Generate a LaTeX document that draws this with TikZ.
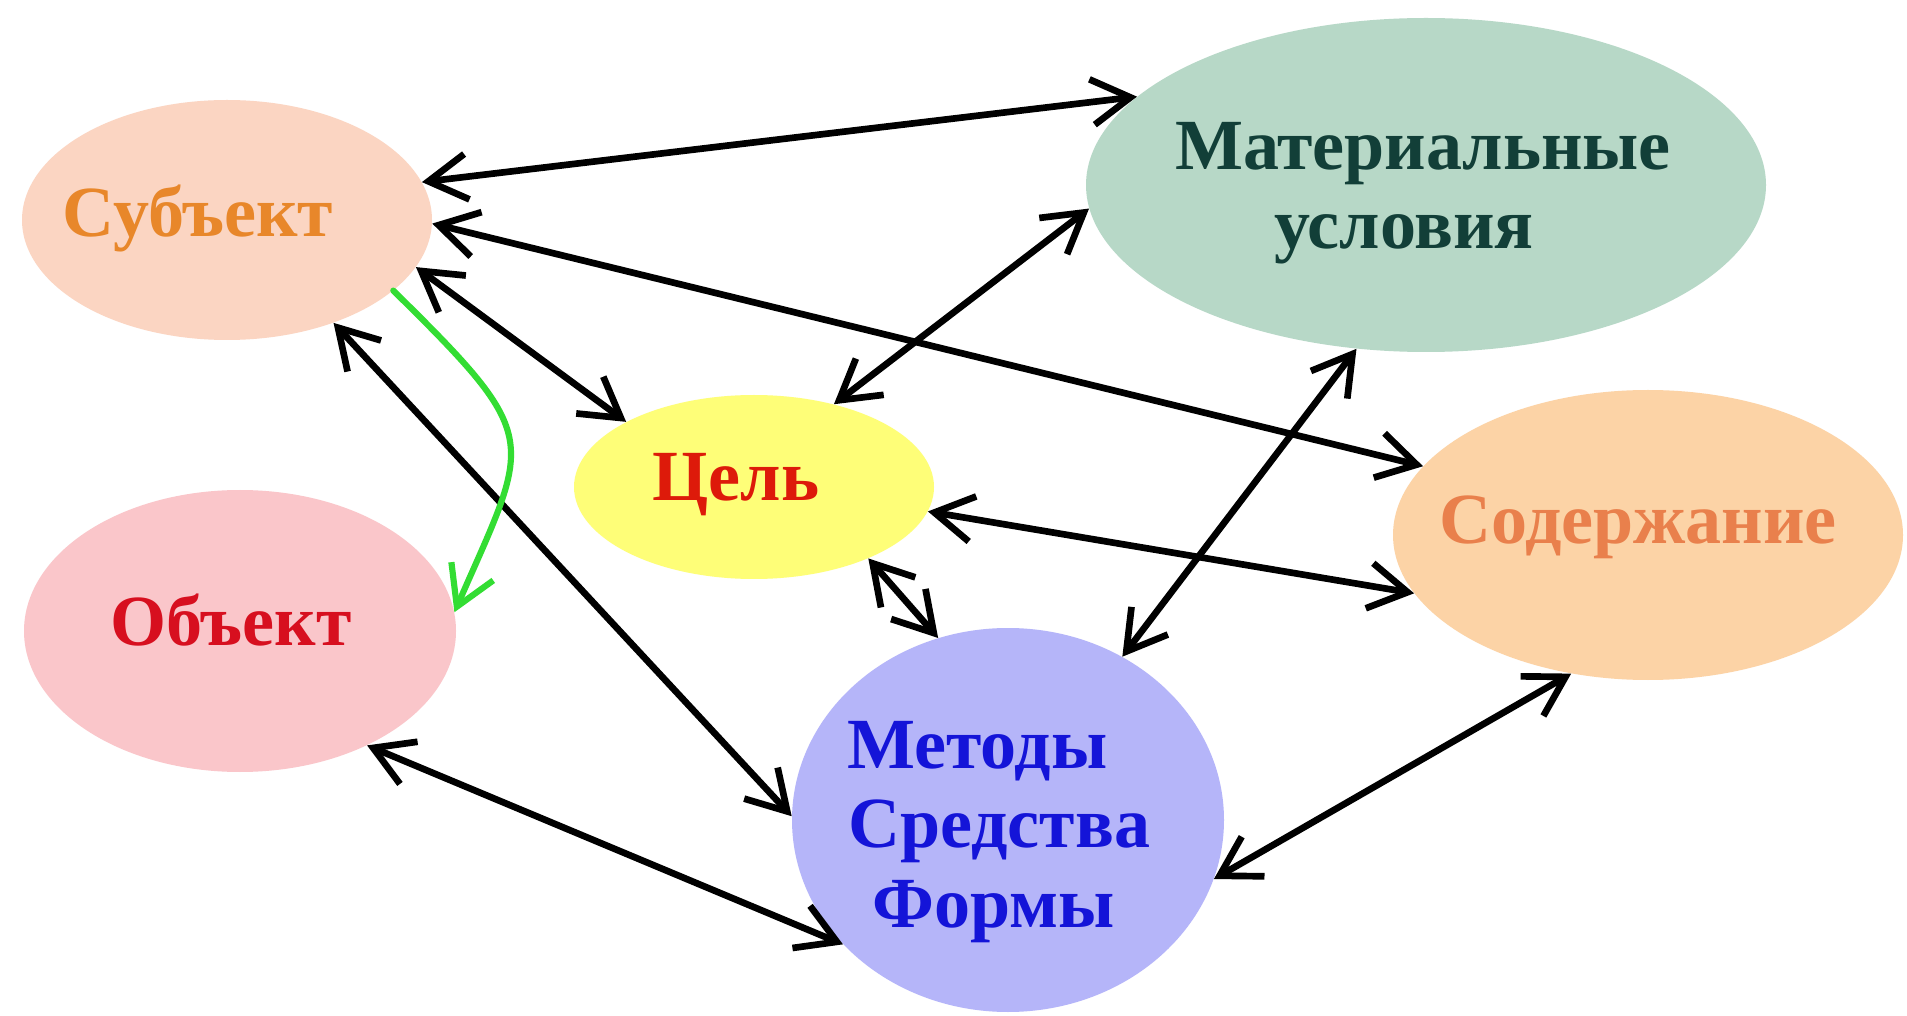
\documentclass[tikz,border=0pt]{standalone}
\usepackage{fontspec}
\setmainfont{Liberation Serif}
\usetikzlibrary{shapes.geometric,arrows.meta}
\newlength\pxu
\setlength\pxu{0.02cm}
\definecolor{subfill}{HTML}{FBD5C2}
\definecolor{subtext}{HTML}{E8872A}
\definecolor{matfill}{HTML}{B7D8C7}
\definecolor{mattext}{HTML}{123F38}
\definecolor{celfill}{HTML}{FEFE78}
\definecolor{celtext}{HTML}{DD1A0A}
\definecolor{objfill}{HTML}{FAC6CA}
\definecolor{objtext}{HTML}{D70F1F}
\definecolor{sodfill}{HTML}{FCD3A6}
\definecolor{sodtext}{HTML}{E9804C}
\definecolor{metfill}{HTML}{B5B5F9}
\definecolor{mettext}{HTML}{1414D8}
\definecolor{greenline}{HTML}{33DD33}
\begin{document}
\begin{tikzpicture}[x=0.02cm,y=-0.02cm,
  blob/.style={ellipse, inner sep=0pt, draw=none},
  lbl/.style={anchor=base, inner sep=0pt, font=\fontsize{41}{45}\selectfont\bfseries},
  link/.style={line width=3.8pt, line cap=round,
    arrows={Straight Barb[length=22pt,width=26pt]-Straight Barb[length=22pt,width=26pt]}},
  glink/.style={line width=3.5pt, line cap=round, draw=greenline,
    arrows={-Straight Barb[length=22pt,width=26pt]}}
]
\useasboundingbox (0,0) rectangle (1907,1016);
\fill[white] (0,0) rectangle (1907,1016);

\node[blob, fill=subfill, minimum width=410\pxu, minimum height=240\pxu] (sub) at (227,220) {};
\node[blob, fill=matfill, minimum width=680\pxu, minimum height=334\pxu] (mat) at (1426,185) {};
\node[blob, fill=celfill, minimum width=360\pxu, minimum height=184\pxu] (cel) at (754,487) {};
\node[blob, fill=objfill, minimum width=432\pxu, minimum height=282\pxu] (obj) at (240,631) {};
\node[blob, fill=sodfill, minimum width=510\pxu, minimum height=290\pxu] (sod) at (1648,535) {};
\node[blob, fill=metfill, minimum width=432\pxu, minimum height=384\pxu] (met) at (1008,820) {};

\node[lbl, text=subtext] (subT) at (198,237) {Субъект};
\node[lbl, text=mattext] (matT1) at (1423,170) {Материальные};
\node[lbl, text=mattext] (matT2) at (1404,249) {условия};
\node[lbl, text=celtext] (celT) at (736,501) {Цель};
\node[lbl, text=objtext] (objT) at (231,645) {Объект};
\node[lbl, text=sodtext] (sodT) at (1638,544) {Содержание};
\node[lbl, text=mettext, anchor=base west] (metT1) at (847,768) {Методы};
\node[lbl, text=mettext, anchor=base west] (metT2) at (848,847) {Средства};
\node[lbl, text=mettext, anchor=base west] (metT3) at (872,927) {Формы};

\draw[link] (sub.11.5) -- (mat.163.4);
\draw[link] (sub.-1.4) -- (sod.163.8);
\draw[link] (sub.-14.3) -- (cel.153.4);
\draw[link] (sub.-44) -- (met.179);
\draw[glink] (sub.-23) .. controls (545,440) and (531,437) .. (obj.5);
\draw[link] (mat.-176.6) -- (cel.46);
\draw[link] (mat.-113.6) -- (met.55.9);
\draw[link] (cel.-8.9) -- (sod.-166.7);
\draw[link] (cel.-32.4) -- (met.111.6);
\draw[link] (obj.-42.9) -- (met.-143.2);
\draw[link] (sod.-119.9) -- (met.-16.3);
\end{tikzpicture}
\end{document}
